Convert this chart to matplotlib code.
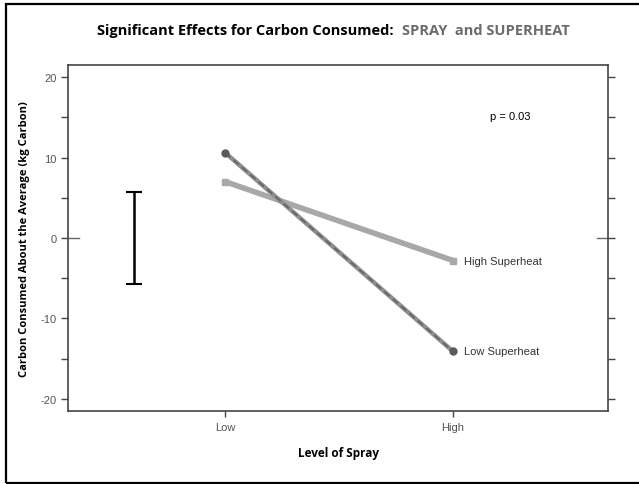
import matplotlib.pyplot as plt
from matplotlib.patches import Rectangle
from matplotlib.ticker import MultipleLocator

# data
levels = ['Low', 'High']
x_pos = [0, 1]
low_superheat = [10.6, -14.1]
high_superheat = [7.0, -2.8]
err_half = 5.75
err_x = -0.40
p_text = 'p = 0.03'

fig = plt.figure(figsize=(6.39, 4.85), dpi=100)
W, H = 639, 485

# outer frame of the picture (right side runs off the edge)
fig.patches.append(Rectangle((6 / W, 1 / H), 700 / W, 479 / H, transform=fig.transFigure,
                             fill=False, edgecolor='black', linewidth=1.6))

ax = fig.add_axes([68 / W, 1 - 412 / H, (608 - 68) / W, (412 - 66) / H])
ax.set_xlim(-0.69, 1.68)
ax.set_ylim(-21.5, 21.5)

# lines and markers
ax.plot(x_pos, high_superheat, color='#a8a8a8', lw=4, solid_capstyle='butt', zorder=2)
ax.plot(x_pos, high_superheat, 's', color='#a8a8a8', ms=5, zorder=3)
ax.plot(x_pos, low_superheat, color='#8e8e8e', lw=3.2, solid_capstyle='butt', zorder=4)
ax.plot(x_pos, low_superheat, color='#5c5c5c', lw=1.0, ls=(0, (5, 3)), zorder=5)
ax.plot(x_pos, low_superheat, 'o', color='#5a5a5a', ms=5, zorder=6)

# error bar
ax.errorbar([err_x], [0], yerr=[err_half], color='black', lw=1.8, capsize=6, capthick=1.5)

ax.text(1.05, high_superheat[1], 'High Superheat', fontsize=8, color='#333333',
        family='Liberation Sans', va='center', ha='left')
ax.text(1.05, low_superheat[1], 'Low Superheat', fontsize=8, color='#333333',
        family='Liberation Sans', va='center', ha='left')
ax.text(1.16, 15.2, p_text, fontsize=8, color='black', family='Liberation Sans',
        va='center', ha='left')

# axes styling
for s in ax.spines.values():
    s.set_color('#444444')
    s.set_linewidth(1.2)

ax.set_xticks(x_pos)
ax.set_xticklabels(levels, family='Liberation Sans', fontsize=8, color='#555555')
ax.yaxis.set_major_locator(MultipleLocator(10))
ax.yaxis.set_minor_locator(MultipleLocator(5))
ax.set_yticks([20, 10, 0, -10, -20])
ax.set_yticklabels(['20', '10', '0', '-10', '-20'], family='Liberation Sans', fontsize=8,
                   color='#555555')
ax.tick_params(axis='y', which='both', direction='out', length=5, width=1, color='#444444',
               left=True, right=True, pad=3)
ax.tick_params(axis='x', which='both', direction='out', length=4, width=1, color='#444444', pad=4)
# zero tick reaching a little inside the box
ax.plot([-0.69, -0.64], [0, 0], color='#666666', lw=1, clip_on=False)
ax.plot([1.63, 1.68], [0, 0], color='#666666', lw=1, clip_on=False)

ax.set_xlabel('Level of Spray', fontsize=8.5, fontweight='bold', family='Open Sans', labelpad=10)
ax.set_ylabel('Carbon Consumed About the Average (kg Carbon)', fontsize=8, fontweight='bold',
              family='Open Sans', labelpad=8)

# two-tone title
t1 = fig.text(97 / W, 1 - 31 / H, 'Significant Effects for Carbon Consumed:', fontsize=10.5,
              fontweight='bold', family='Open Sans', color='black', va='center', ha='left')
fig.canvas.draw()
bb = t1.get_window_extent()
fig.text((bb.x1 + 8) / W, 1 - 31 / H, 'SPRAY  and SUPERHEAT', fontsize=10.5,
         fontweight='bold', family='Open Sans', color='#6b6b6b', va='center', ha='left')

fig.savefig('out.png', dpi=100)
